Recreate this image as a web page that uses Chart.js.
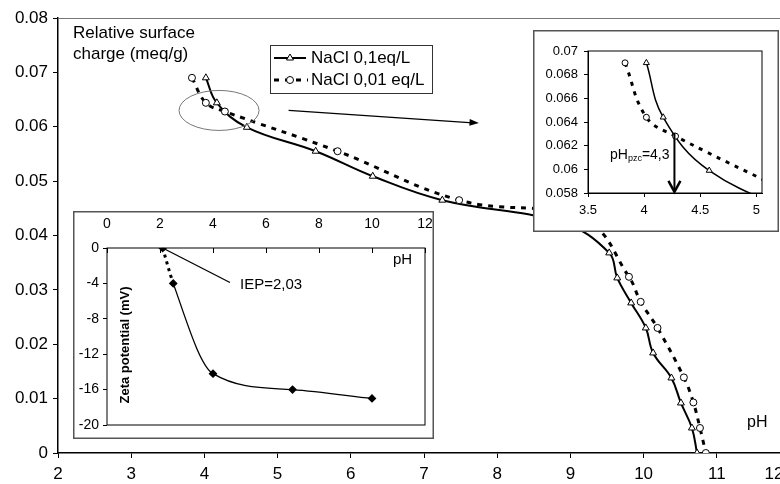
<!DOCTYPE html>
<html>
<head>
<meta charset="utf-8">
<script src="https://cdn.jsdelivr.net/npm/chart.js@4"></script>
<style>
html, body { margin: 0; padding: 0; background: #fff; overflow: hidden; }
#wrap { position: relative; width: 780px; height: 484px; overflow: hidden; }
canvas { position: absolute; }
</style>
</head>
<body>
<div id="wrap">
  <canvas id="mainChart" width="800" height="484" style="left:0;top:0"></canvas>
  <canvas id="zoomChart" width="246" height="202" style="left:533px;top:30px"></canvas>
  <canvas id="zetaChart" width="361" height="228" style="left:73px;top:211px"></canvas>
</div>
<script>
const FONT = 'Arial, "Liberation Sans", sans-serif';

// NaCl 0,1 eq/L  (triangles, solid)
const phHigh = [4.02, 4.17, 4.58, 5.52, 6.30, 7.25, 8.90, 9.53, 9.64, 9.83, 10.03, 10.13, 10.38, 10.51, 10.66, 10.73];
const chargeHigh = [0.069, 0.0644, 0.0599, 0.0555, 0.0509, 0.0465, 0.0423, 0.0368, 0.0322, 0.0276, 0.0230, 0.0184, 0.0138, 0.0092, 0.0046, 0];

// NaCl 0,01 eq/L  (circles, dashed)
const phLow = [3.83, 4.02, 4.28, 5.82, 7.48, 9.20, 9.80, 9.96, 10.19, 10.55, 10.68, 10.77, 10.85];
const chargeLow = [0.069, 0.0644, 0.0628, 0.0555, 0.0465, 0.0428, 0.0324, 0.0278, 0.0230, 0.0139, 0.0093, 0.0046, 0];

// zeta potential inset
const phZeta = [2.1, 2.5, 4.0, 7.0, 10.0];
const zeta = [0, -4, -14.2, -16, -17];

const labelHigh = 'NaCl 0,1eq/L';
const labelLow = 'NaCl 0,01 eq/L';
const phPzc = 4.27;

const toXY = (xs, ys) => xs.map((x, i) => ({x: x, y: ys[i]}));
const fmt = (v) => parseFloat(v.toFixed(3)).toString();
// keep the x axis from eating into the plot width for its end labels
const fixX = (h) => (s) => { s.height = h; s.paddingLeft = 0; s.paddingRight = 0; };

function drawTriangle(ctx, x, y, r) {
    ctx.beginPath();
    ctx.moveTo(x, y - r);
    ctx.lineTo(x + r * 0.87, y + r * 0.5);
    ctx.lineTo(x - r * 0.87, y + r * 0.5);
    ctx.closePath();
    ctx.fillStyle = '#fff'; ctx.fill();
    ctx.strokeStyle = '#000'; ctx.lineWidth = 1; ctx.stroke();
}
function drawCircle(ctx, x, y, r) {
    ctx.beginPath();
    ctx.arc(x, y, r, 0, Math.PI * 2);
    ctx.fillStyle = '#fff'; ctx.fill();
    ctx.strokeStyle = '#000'; ctx.lineWidth = 1; ctx.stroke();
}
function drawArrowHead(ctx, x1, y1, x2, y2, len) {
    const a = Math.atan2(y2 - y1, x2 - x1);
    ctx.beginPath();
    ctx.moveTo(x2, y2);
    ctx.lineTo(x2 - len * Math.cos(a - 0.35), y2 - len * Math.sin(a - 0.35));
    ctx.lineTo(x2 - len * Math.cos(a + 0.35), y2 - len * Math.sin(a + 0.35));
    ctx.closePath();
    ctx.fill();
}

const mainDecor = {
    id: 'mainDecor',
    afterDraw(chart) {
        const {ctx, chartArea, scales: {x, y}} = chart;
        ctx.save();
        // plot frame (top / right)
        ctx.strokeStyle = '#777'; ctx.lineWidth = 1;
        ctx.beginPath();
        ctx.moveTo(chartArea.left, chartArea.top + 0.5);
        ctx.lineTo(chartArea.right, chartArea.top + 0.5);
        ctx.lineTo(chartArea.right, chartArea.bottom);
        ctx.stroke();

        ctx.fillStyle = '#000';
        ctx.font = '17px ' + FONT;
        ctx.textBaseline = 'middle'; ctx.textAlign = 'left';
        ctx.fillText('Relative surface', 73, 33);
        ctx.fillText('charge (meq/g)', 73, 54);
        ctx.font = '16px ' + FONT;
        ctx.fillText('pH', 747, 423);
        // last tick label sits at the cropped right edge in the original
        ctx.font = '17px ' + FONT;
        ctx.textAlign = 'center';
        ctx.fillText('12', 774, 474);
        ctx.textAlign = 'left';

        // legend
        ctx.strokeStyle = '#333'; ctx.lineWidth = 1;
        ctx.strokeRect(270.5, 45.5, 162, 48);
        ctx.strokeStyle = '#000'; ctx.lineWidth = 2;
        ctx.beginPath(); ctx.moveTo(274, 58); ctx.lineTo(306, 58); ctx.stroke();
        drawTriangle(ctx, 290, 58, 4);
        ctx.lineWidth = 3; ctx.setLineDash([5, 6]);
        ctx.beginPath(); ctx.moveTo(274, 80); ctx.lineTo(308, 80); ctx.stroke();
        ctx.setLineDash([]);
        drawCircle(ctx, 290, 80, 3.5);
        ctx.fillStyle = '#000';
        ctx.font = '17px ' + FONT;
        ctx.fillText(labelHigh, 311, 58);
        ctx.fillText(labelLow, 311, 80);

        // zoom ellipse and arrow
        ctx.strokeStyle = '#777'; ctx.lineWidth = 1;
        ctx.beginPath();
        ctx.ellipse(x.getPixelForValue(4.2), y.getPixelForValue(0.063), 40, 20, 0, 0, Math.PI * 2);
        ctx.stroke();
        const ax1 = x.getPixelForValue(5.15), ay1 = y.getPixelForValue(0.063);
        const ax2 = x.getPixelForValue(7.75), ay2 = y.getPixelForValue(0.0607);
        ctx.strokeStyle = '#000'; ctx.lineWidth = 1.2;
        ctx.beginPath(); ctx.moveTo(ax1, ay1); ctx.lineTo(ax2 - 6, ay2); ctx.stroke();
        ctx.fillStyle = '#000';
        drawArrowHead(ctx, ax1, ay1, ax2, ay2, 10);
        ctx.restore();
    }
};

const whiteBox = {
    id: 'whiteBox',
    beforeDraw(chart) {
        const ctx = chart.ctx;
        ctx.save();
        ctx.fillStyle = '#fff';
        ctx.fillRect(0, 0, chart.width, chart.height);
        ctx.restore();
    },
    afterDraw(chart) {
        const {ctx, chartArea} = chart;
        ctx.save();
        ctx.strokeStyle = '#555'; ctx.lineWidth = 1.5;
        ctx.strokeRect(0.75, 0.75, chart.width - 1.5, chart.height - 1.5);
        ctx.strokeStyle = '#000'; ctx.lineWidth = 1;
        ctx.strokeRect(chartArea.left, chartArea.top, chartArea.right - chartArea.left, chartArea.bottom - chartArea.top);
        ctx.restore();
    }
};

const zoomDecor = {
    id: 'zoomDecor',
    afterDraw(chart) {
        const {ctx, scales: {x, y}} = chart;
        ctx.save();
        const px = x.getPixelForValue(phPzc);
        const top = y.getPixelForValue(0.0631), bot = y.getPixelForValue(0.0581);
        ctx.strokeStyle = '#000'; ctx.lineWidth = 2;
        ctx.beginPath(); ctx.moveTo(px, top); ctx.lineTo(px, bot); ctx.stroke();
        ctx.lineWidth = 2.5;
        ctx.beginPath(); ctx.moveTo(px - 6, bot - 11); ctx.lineTo(px, bot); ctx.lineTo(px + 6, bot - 11); ctx.stroke();

        ctx.fillStyle = '#000'; ctx.textBaseline = 'middle'; ctx.textAlign = 'left';
        let tx = 77;
        ctx.font = '14px ' + FONT;
        ctx.fillText('pH', tx, 125); tx += ctx.measureText('pH').width;
        ctx.font = '9px ' + FONT;
        ctx.fillText('pzc', tx, 129); tx += ctx.measureText('pzc').width;
        ctx.font = '14px ' + FONT;
        ctx.fillText('=4,3', tx, 125);
        ctx.restore();
    }
};

const zetaDecor = {
    id: 'zetaDecor',
    afterDraw(chart) {
        const {ctx, chartArea, scales: {x, y}} = chart;
        ctx.save();
        ctx.strokeStyle = '#000'; ctx.lineWidth = 1;
        x.ticks.forEach((t) => {
            const px = Math.round(x.getPixelForValue(t.value)) + 0.5;
            ctx.beginPath(); ctx.moveTo(px, chartArea.top); ctx.lineTo(px, chartArea.top + 5); ctx.stroke();
        });
        // IEP leader
        ctx.lineWidth = 1.3;
        ctx.beginPath();
        ctx.moveTo(x.getPixelForValue(phZeta[0]), y.getPixelForValue(zeta[0]));
        ctx.lineTo(x.getPixelForValue(4.64), y.getPixelForValue(-3.9));
        ctx.stroke();

        ctx.fillStyle = '#000'; ctx.textBaseline = 'middle'; ctx.textAlign = 'left';
        ctx.font = '15px ' + FONT;
        ctx.fillText('IEP=2,03', 167, 74);
        ctx.fillText('pH', 320, 49);

        ctx.translate(52, 134);
        ctx.rotate(-Math.PI / 2);
        ctx.textAlign = 'center';
        ctx.font = 'bold 13px ' + FONT;
        ctx.fillText('Zeta potential (mV)', 0, 0);
        ctx.restore();
    }
};

new Chart(document.getElementById('mainChart'), {
    type: 'scatter',
    data: {
        datasets: [{
            label: labelLow,
            data: toXY(phLow, chargeLow),
            showLine: true,
            tension: 0.4,
            borderColor: '#000',
            borderWidth: 3,
            borderDash: [5, 6],
            pointStyle: 'circle',
            pointRadius: 3.5,
            pointBackgroundColor: '#fff',
            pointBorderColor: '#000',
            pointBorderWidth: 1
        }, {
            label: labelHigh,
            data: toXY(phHigh, chargeHigh),
            showLine: true,
            tension: 0.4,
            borderColor: '#000',
            borderWidth: 2,
            pointStyle: 'triangle',
            pointRadius: 4,
            pointBackgroundColor: '#fff',
            pointBorderColor: '#000',
            pointBorderWidth: 1
        }]
    },
    options: {
        responsive: false,
        animation: false,
        layout: { padding: { top: 18, right: 10, left: 0, bottom: 0 } },
        plugins: { legend: { display: false }, tooltip: { enabled: false } },
        scales: {
            x: {
                type: 'linear', min: 2, max: 12,
                ticks: { stepSize: 1, color: '#000', font: { size: 17, family: FONT }, padding: 6 },
                grid: { drawOnChartArea: false, tickLength: 5, color: '#000' },
                border: { color: '#000', width: 1.5 },
                afterFit: fixX(31)
            },
            y: {
                min: 0, max: 0.08,
                ticks: { stepSize: 0.01, color: '#000', font: { size: 17, family: FONT }, padding: 5, callback: fmt },
                grid: { drawOnChartArea: false, tickLength: 5, color: '#000' },
                border: { color: '#000', width: 1.5 },
                afterFit: (s) => { s.width = 58; }
            }
        }
    },
    plugins: [mainDecor]
});

new Chart(document.getElementById('zoomChart'), {
    type: 'scatter',
    data: {
        datasets: [{
            data: toXY(phLow, chargeLow),
            showLine: true,
            tension: 0.4,
            borderColor: '#000',
            borderWidth: 3,
            borderDash: [4, 6],
            pointStyle: 'circle',
            pointRadius: 3,
            pointBackgroundColor: '#fff',
            pointBorderColor: '#000',
            pointBorderWidth: 1
        }, {
            data: toXY(phHigh, chargeHigh),
            showLine: true,
            tension: 0.4,
            borderColor: '#000',
            borderWidth: 1.5,
            pointStyle: 'triangle',
            pointRadius: 3.5,
            pointBackgroundColor: '#fff',
            pointBorderColor: '#000',
            pointBorderWidth: 1
        }]
    },
    options: {
        responsive: false,
        animation: false,
        layout: { padding: { top: 21, right: 17, left: 0, bottom: 0 } },
        plugins: { legend: { display: false }, tooltip: { enabled: false } },
        scales: {
            x: {
                type: 'linear', min: 3.5, max: 5.05,
                ticks: { stepSize: 0.5, includeBounds: false, color: '#000', font: { size: 13, family: FONT }, padding: 6, callback: fmt },
                grid: { drawOnChartArea: false, tickLength: 4, color: '#000' },
                border: { color: '#000' },
                afterFit: fixX(39)
            },
            y: {
                min: 0.058, max: 0.07,
                ticks: { stepSize: 0.002, color: '#000', font: { size: 13, family: FONT }, padding: 6, callback: fmt },
                grid: { drawOnChartArea: false, tickLength: 4, color: '#000' },
                border: { color: '#000' },
                afterFit: (s) => { s.width = 55; }
            }
        }
    },
    plugins: [whiteBox, zoomDecor]
});

new Chart(document.getElementById('zetaChart'), {
    type: 'scatter',
    data: {
        datasets: [{
            data: toXY(phZeta, zeta),
            showLine: true,
            cubicInterpolationMode: 'monotone',
            borderColor: '#000',
            borderWidth: 1.3,
            segment: {
                borderDash: (c) => c.p0DataIndex === 0 ? [3, 4] : undefined,
                borderWidth: (c) => c.p0DataIndex === 0 ? 3 : 1.3
            },
            pointStyle: 'rectRot',
            pointRadius: 3.5,
            pointBackgroundColor: '#000',
            pointBorderColor: '#000'
        }]
    },
    options: {
        responsive: false,
        animation: false,
        layout: { padding: { top: 0, right: 9, left: 0, bottom: 14 } },
        plugins: { legend: { display: false }, tooltip: { enabled: false } },
        scales: {
            x: {
                type: 'linear', position: 'top', min: 0, max: 12,
                ticks: { stepSize: 2, color: '#000', font: { size: 14, family: FONT }, padding: 7 },
                grid: { display: false },
                border: { display: false },
                afterFit: fixX(37)
            },
            y: {
                min: -20, max: 0,
                ticks: { stepSize: 4, color: '#000', font: { size: 14, family: FONT }, padding: 4 },
                grid: { drawOnChartArea: false, tickLength: 4, color: '#000' },
                border: { display: false },
                afterFit: (s) => { s.width = 34; }
            }
        }
    },
    plugins: [whiteBox, zetaDecor]
});
</script>
</body>
</html>
